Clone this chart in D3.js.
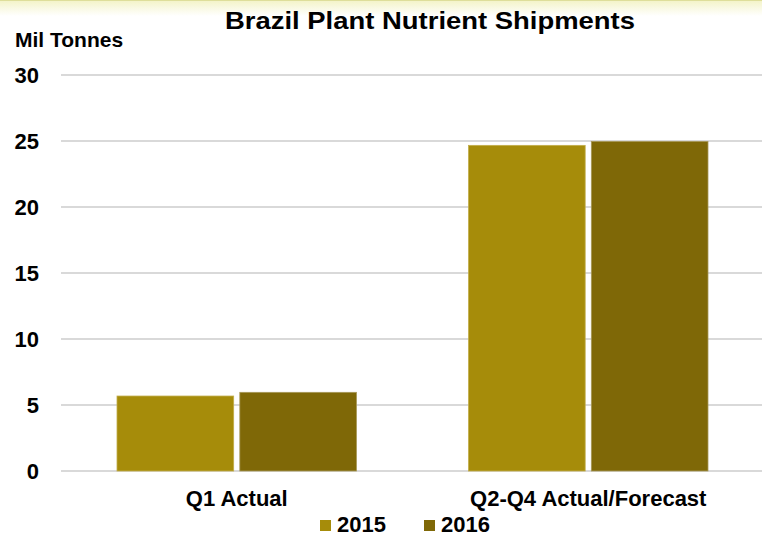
<!DOCTYPE html>
<html>
<head>
<meta charset="utf-8">
<script src="https://cdn.jsdelivr.net/npm/d3@7"></script>
<style>
  body { margin: 0; background: #fff; }
  text { font-family: Arial, "Liberation Sans", sans-serif; font-weight: bold; fill: #000; }
</style>
</head>
<body>
<div id="chart"></div>
<script>
// chart data
const categories = ["Q1 Actual", "Q2-Q4 Actual/Forecast"];
const seriesNames = ["2015", "2016"];
const values2015 = [5.68, 24.67];
const values2016 = [5.96, 24.97];
const yTicks = [0, 5, 10, 15, 20, 25, 30];
const colors = ["#A68C0A", "#7F6807"];

const width = 762, height = 539;
const margin = { top: 75, right: -2, bottom: 68, left: 61 };

const svg = d3.select('#chart')
    .append('svg')
    .attr('width', width)
    .attr('height', height);

// faint yellow band at the top
const grad = svg.append('defs').append('linearGradient')
    .attr('id', 'topband')
    .attr('x1', 0).attr('y1', 0).attr('x2', 0).attr('y2', 1);
grad.append('stop').attr('offset', '0%').attr('stop-color', '#f3f3c6');
grad.append('stop').attr('offset', '100%').attr('stop-color', '#ffffff');
svg.append('rect')
    .attr('x', 0).attr('y', 0)
    .attr('width', width).attr('height', 16)
    .attr('fill', 'url(#topband)');
svg.append('line')
    .attr('x1', 0).attr('x2', width)
    .attr('y1', 0.5).attr('y2', 0.5)
    .attr('stroke', '#dede9a');

const x0 = d3.scaleBand()
    .domain(categories)
    .range([margin.left, width - margin.right])
    .paddingInner(0)
    .paddingOuter(0);

const x1 = d3.scaleBand()
    .domain(seriesNames)
    .range([56, x0.bandwidth() - 56])
    .paddingInner(0.05);

const y = d3.scaleLinear()
    .domain([0, 30])
    .range([height - margin.bottom, margin.top]);

// gridlines
svg.append('g')
    .selectAll('line')
    .data(yTicks)
    .enter().append('line')
    .attr('x1', margin.left)
    .attr('x2', width)
    .attr('y1', d => y(d))
    .attr('y2', d => y(d))
    .attr('stroke', '#d9d9d9')
    .attr('stroke-width', 2);

// y tick labels
svg.append('g')
    .selectAll('text')
    .data(yTicks)
    .enter().append('text')
    .attr('x', 39)
    .attr('y', d => y(d) + 8)
    .attr('text-anchor', 'end')
    .style('font-size', '22px')
    .text(d => d);

// bars
const rows = categories.map((c, i) => ({
    cat: c,
    vals: [values2015[i], values2016[i]]
}));

const groups = svg.append('g')
    .selectAll('g')
    .data(rows)
    .enter().append('g')
    .attr('transform', d => `translate(${x0(d.cat)},0)`);

groups.selectAll('rect')
    .data(d => d.vals.map((v, j) => ({ name: seriesNames[j], value: v, idx: j })))
    .enter().append('rect')
    .attr('x', d => x1(d.name))
    .attr('y', d => y(d.value))
    .attr('width', x1.bandwidth())
    .attr('height', d => y(0) - y(d.value))
    .attr('fill', d => colors[d.idx])
    .attr('stroke', d => d.idx === 0 ? '#c2ad4a' : '#a8995a')
    .attr('stroke-width', 0.8);

// category labels
svg.append('g')
    .selectAll('text')
    .data(categories)
    .enter().append('text')
    .attr('x', d => x0(d) + x0.bandwidth() / 2)
    .attr('y', 506)
    .attr('text-anchor', 'middle')
    .style('font-size', '22px')
    .text(d => d);

// title and axis label
svg.append('text')
    .attr('x', 225)
    .attr('y', 29)
    .attr('textLength', 410)
    .attr('lengthAdjust', 'spacingAndGlyphs')
    .style('font-size', '24px')
    .text('Brazil Plant Nutrient Shipments');

svg.append('text')
    .attr('x', 15)
    .attr('y', 47)
    .style('font-size', '21px')
    .text('Mil Tonnes');

// legend
const legendX = [320, 424];
const legend = svg.append('g')
    .selectAll('g')
    .data(seriesNames)
    .enter().append('g')
    .attr('transform', (d, i) => `translate(${legendX[i]},520)`);

legend.append('rect')
    .attr('width', 11)
    .attr('height', 11)
    .attr('fill', (d, i) => colors[i]);

legend.append('text')
    .attr('x', 17)
    .attr('y', 12)
    .style('font-size', '22px')
    .text(d => d);
</script>
</body>
</html>
